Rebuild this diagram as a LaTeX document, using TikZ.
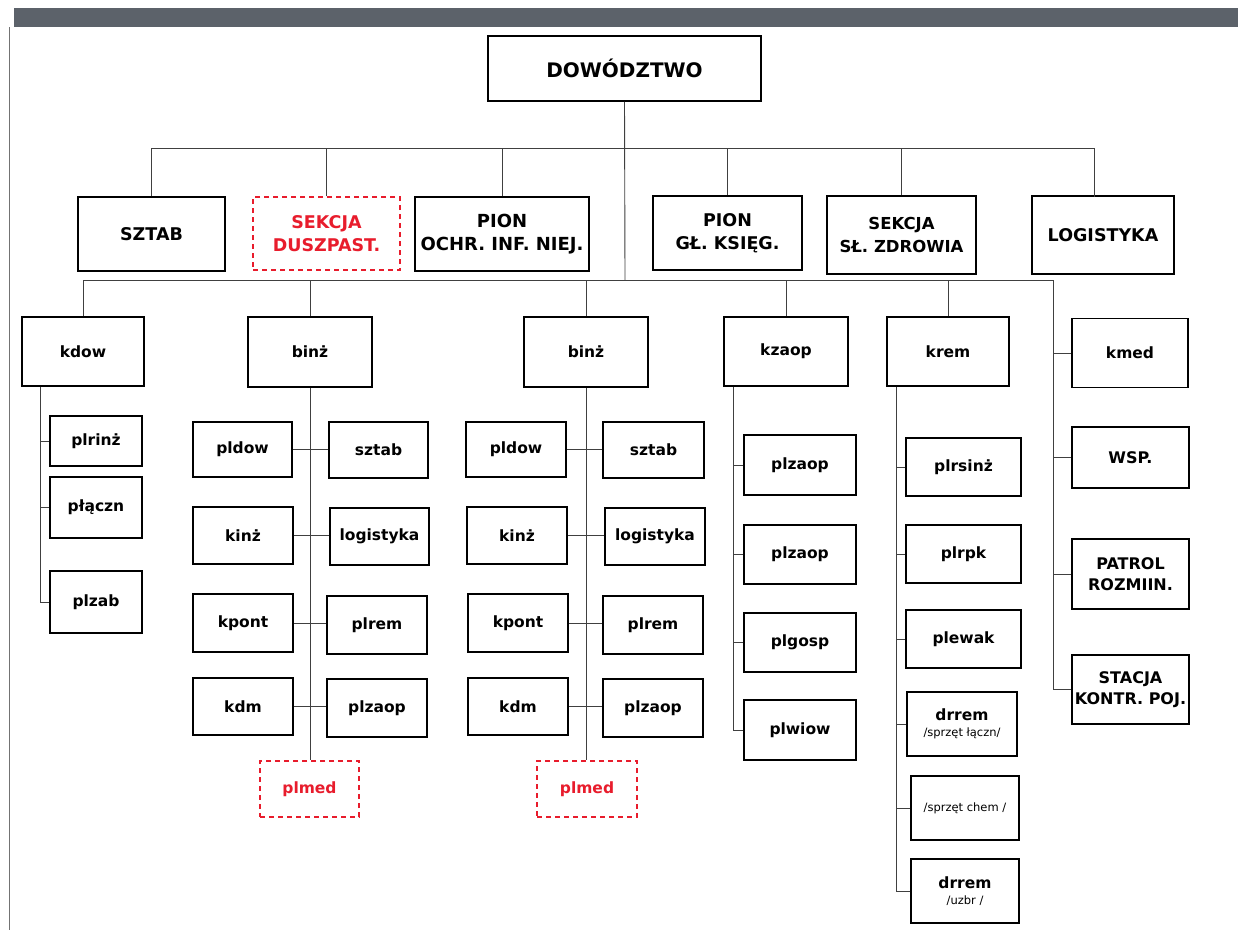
\documentclass[tikz,border=0pt]{standalone}
\usepackage{fontspec}
\setmainfont{DejaVu Sans}
\definecolor{orgred}{RGB}{232,28,44}
\definecolor{bandgrey}{RGB}{92,98,106}
\begin{document}
\begin{tikzpicture}[x=1pt,y=-1pt,
  box/.style={draw=black, line width=1.5pt, align=center, inner sep=1pt,
    font=\bfseries\fontsize{15.5}{19}\selectfont},
  head/.style={box, font=\bfseries\fontsize{17.5}{23}\selectfont},
  caps/.style={box, font=\bfseries\fontsize{16}{21}\selectfont},
  redbox/.style={draw=orgred, text=orgred, dash pattern=on 5pt off 4pt, line width=1.2pt},
  sz/.style 2 args={minimum width=#1pt, minimum height=#2pt},
  link/.style={line width=0.9pt, draw=black!75},
  small/.style={}
]
\useasboundingbox (0,0) rectangle (1238,930);
\fill[white] (0,0) rectangle (1238,930);

% page edge: grey band on top, thin rule on the left
\fill[bandgrey] (14,8) rectangle (1238,27);
\draw[black!55, line width=1.2pt] (9.5,27) -- (9.5,930);

% ---- command level ----
\node[box, sz={273}{65}, font=\bfseries\fontsize{20}{24}\selectfont] (top) at (624.5,68.5) {DOWÓDZTWO};

% ---- staff sections ----
\node[head, sz={147}{74}] (sztab) at (151.5,234) {SZTAB};
\node[head, redbox, sz={147}{73}] (dusz) at (326.5,233.5) {SEKCJA\\DUSZPAST.};
\node[head, sz={174}{74}, font=\bfseries\fontsize{18}{23}\selectfont] (ochr) at (502,234) {PION\\OCHR. INF. NIEJ.};
\node[head, sz={149}{74}] (gl) at (727.5,233) {PION\\GŁ. KSIĘG.};
\node[head, sz={149}{78}, font=\bfseries\fontsize{16.5}{23}\selectfont] (slz) at (901.5,235) {SEKCJA\\SŁ. ZDROWIA};
\node[head, sz={142}{78}] (logi) at (1103,235) {LOGISTYKA};

% ---- subordinate units ----
\node[box, sz={122}{69}] (kdow) at (83,351.5) {kdow};
\node[box, sz={124}{70}] (binzA) at (310,352) {binż};
\node[box, sz={124}{70}] (binzB) at (586,352) {binż};
\node[box, sz={124}{69}] (kzaop) at (786,351.5) {kzaop};
\node[box, sz={122}{69}] (krem) at (948,351.5) {krem};

% right column
\node[box, sz={116}{69}] (kmed) at (1130,353) {kmed};
\node[caps, sz={117}{61}] (wsp) at (1130.5,457.5) {WSP.};
\node[caps, sz={117}{70}] (patrol) at (1130.5,574) {PATROL\\ROZMIIN.};
\node[caps, sz={117}{69}] (stacja) at (1130.5,689.5) {STACJA\\KONTR. POJ.};

% kdow column
\node[box, sz={92}{50}] (plrinz) at (96,441) {plrinż};
\node[box, sz={92}{61}] (placzn) at (96,507.5) {płączn};
\node[box, sz={92}{62}] (plzab) at (96,602) {plzab};

% first binż column
\node[box, sz={99}{55}] (pldowA) at (242.5,449.5) {pldow};
\node[box, sz={99}{56}] (sztabA) at (378.5,450) {sztab};
\node[box, sz={100}{57}] (kinzA) at (243,535.5) {kinż};
\node[box, sz={99}{57}] (logA) at (379.5,536.5) {logistyka};
\node[box, sz={100}{58}] (kpontA) at (243,623) {kpont};
\node[box, sz={100}{58}] (plremA) at (377,625) {plrem};
\node[box, sz={100}{57}] (kdmA) at (243,706.5) {kdm};
\node[box, sz={100}{58}] (plzaopA) at (377,708) {plzaop};
\node[box, redbox, sz={99}{56}] (plmedA) at (309.5,789) {plmed};

% second binż column
\node[box, sz={100}{55}] (pldowB) at (516,449.5) {pldow};
\node[box, sz={101}{56}] (sztabB) at (653.5,450) {sztab};
\node[box, sz={100}{57}] (kinzB) at (517,535.5) {kinż};
\node[box, sz={100}{57}] (logB) at (655,536.5) {logistyka};
\node[box, sz={100}{58}] (kpontB) at (518,623) {kpont};
\node[box, sz={100}{58}] (plremB) at (653,625) {plrem};
\node[box, sz={100}{57}] (kdmB) at (518,706.5) {kdm};
\node[box, sz={100}{58}] (plzaopB) at (653,708) {plzaop};
\node[box, redbox, sz={100}{56}] (plmedB) at (587,789) {plmed};

% kzaop column
\node[box, sz={112}{60}] (plzaop1) at (800,465) {plzaop};
\node[box, sz={112}{59}] (plzaop2) at (800,554.5) {plzaop};
\node[box, sz={112}{59}] (plgosp) at (800,642.5) {plgosp};
\node[box, sz={112}{60}] (plwiow) at (800,730) {plwiow};

% krem column
\node[box, sz={115}{58}] (plrsinz) at (963.5,467) {plrsinż};
\node[box, sz={115}{58}] (plrpk) at (963.5,554) {plrpk};
\node[box, sz={115}{58}] (plewak) at (963.5,639) {plewak};
\node[box, sz={110}{64}] (drremA) at (962,724) {drrem\\[-3pt]{\mdseries\fontsize{11.5}{13}\selectfont /sprzęt łączn/}};
\node[box, sz={108}{64}] (chem) at (965,808) {\mdseries\fontsize{11.5}{13}\selectfont /sprzęt chem /};
\node[box, sz={108}{64}] (drremB) at (965,891) {drrem\\[-3pt]{\mdseries\fontsize{11.5}{13}\selectfont /uzbr /}};

% ---- connectors ----
\coordinate (bus1) at (625,148);
\coordinate (bus2) at (625,280);
\coordinate (logdrop) at (1094,197);
\coordinate (rv) at (1053,280);
\coordinate (kv) at (40,0);
\coordinate (zv) at (733,0);
\coordinate (mv) at (896,0);

\draw[link] (top.south) -- (bus2);
\draw[link] (sztab.north |- bus1) -- (logdrop |- bus1);
\foreach \n in {sztab,dusz,ochr,gl,slz}
  \draw[link] (\n.north) -- (\n.north |- bus1);
\draw[link] (logdrop) -- (logdrop |- bus1);

\draw[link] (kdow.north |- bus2) -- (rv) -- (rv |- stacja.west);
\foreach \n in {kdow,binzA,binzB,kzaop,krem}
  \draw[link] (\n.north) -- (\n.north |- bus2);
\foreach \n in {kmed,wsp,patrol,stacja}
  \draw[link] (\n.west) -- (\n.west -| rv);

\draw[link] (kdow.south -| kv) -- (plzab.west -| kv);
\foreach \n in {plrinz,placzn,plzab}
  \draw[link] (\n.west) -- (\n.west -| kv);

\draw[link] (binzA.south) -- (binzA.south |- plmedA.north);
\draw[link] (binzB.south) -- (binzB.south |- plmedB.north);
\foreach \l/\r in {pldowA/sztabA,kinzA/logA,kpontA/plremA,kdmA/plzaopA,
                   pldowB/sztabB,kinzB/logB,kpontB/plremB,kdmB/plzaopB}
  \draw[link] (\l.east) -- (\l.east -| \r.west);

\draw[link] (kzaop.south -| zv) -- (plwiow.west -| zv);
\foreach \n in {plzaop1,plzaop2,plgosp,plwiow}
  \draw[link] (\n.west) -- (\n.west -| zv);

\draw[link] (krem.south -| mv) -- (drremB.west -| mv);
\foreach \n in {plrsinz,plrpk,plewak,drremA,chem,drremB}
  \draw[link] (\n.west) -- (\n.west -| mv);
\end{tikzpicture}
\end{document}
